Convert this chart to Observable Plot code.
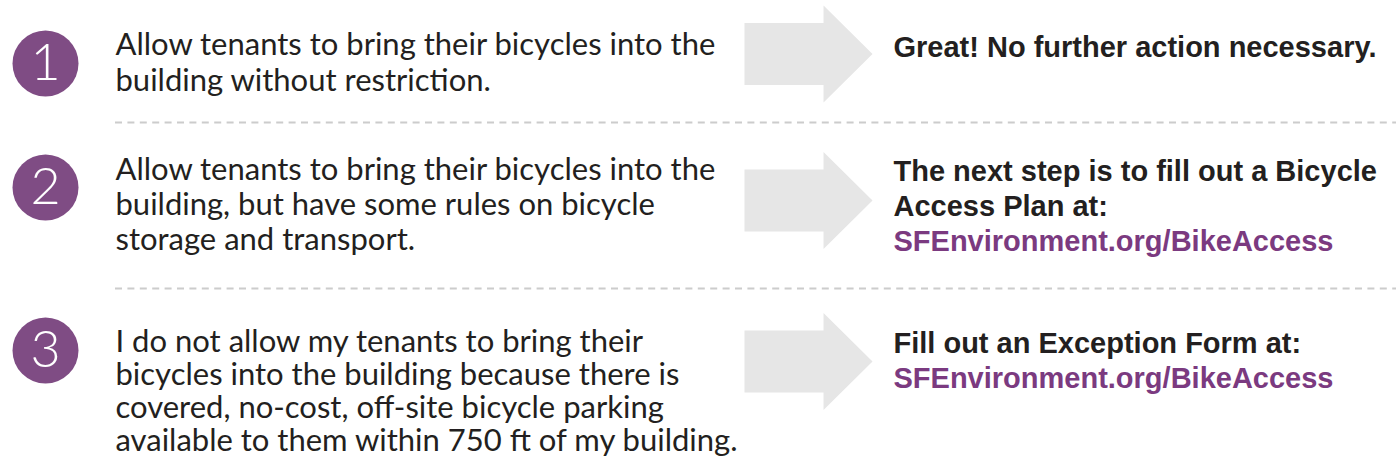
<!DOCTYPE html>
<html><head><meta charset="utf-8">
<script src="https://cdn.jsdelivr.net/npm/d3@7"></script>
<script src="https://cdn.jsdelivr.net/npm/@observablehq/plot@0.6"></script>
<style>
body{margin:0;background:#fff;overflow:hidden}
</style>
</head><body><div id="chart"></div>
<script>
// ---- content ----
const steps = ["1", "2", "3"];
const conditions = [
  ["Allow tenants to bring their bicycles into the", "building without restriction."],
  ["Allow tenants to bring their bicycles into the", "building, but have some rules on bicycle", "storage and transport."],
  ["I do not allow my tenants to bring their", "bicycles into the building because there is", "covered, no-cost, off-site bicycle parking", "available to them within 750 ft of my building."]
];
const actions = [
  ["Great! No further action necessary."],
  ["The next step is to fill out a Bicycle", "Access Plan at:"],
  ["Fill out an Exception Form at:"]
];
const links = [null, "SFEnvironment.org/BikeAccess", "SFEnvironment.org/BikeAccess"];

// ---- layout (pixels) ----
const W = 1396, H = 466;
const circleX = 45, circleR = 33, circleY = [63, 187, 350];
const textX = 115, actionX = 893, arrowX = 808;
const arrowY = [53.5, 200, 361];
const leftBase = [54, 179, 351];
const rightBase = [56, 180, 352];
const lineStep = [36, 35, 33];
const sepY = [122, 288];
const purple = "#7f4c84", linkPurple = "#7b3a80", ink = "#231f20";

const leftLines = conditions.flatMap((ls, r) => ls.map((t, i) => ({t, y: leftBase[r] + i * lineStep[r]})));
const rightLines = actions.flatMap((ls, r) => {
  const out = ls.map((t, i) => ({t, y: rightBase[r] + i * 35, link: false}));
  if (links[r]) out.push({t: links[r], y: rightBase[r] + ls.length * 35, link: true});
  return out;
});
const rows = steps.map((s, i) => ({s, cy: circleY[i], ay: arrowY[i]}));

// arrow symbol: r = half of head height
const arrow = {
  draw(context, size) {
    const r = Math.sqrt(size / Math.PI);
    const L = -1.32 * r, B = 0.31 * r, T = 1.32 * r, bh = 0.64 * r;
    context.moveTo(L, -bh);
    context.lineTo(B, -bh);
    context.lineTo(B, -r);
    context.lineTo(T, 0);
    context.lineTo(B, r);
    context.lineTo(B, bh);
    context.lineTo(L, bh);
    context.closePath();
  }
};

const chart = Plot.plot({
  width: W, height: H, margin: 0,
  x: {domain: [0, W], range: [0, W], axis: null},
  y: {domain: [0, H], range: [0, H], axis: null},
  style: {background: "#fff"},
  marks: [
    Plot.ruleY(sepY, {x1: textX, x2: W, stroke: "#cccccc", strokeWidth: 2, strokeDasharray: "7,5.4"}),
    Plot.dot(rows, {x: () => arrowX, y: "ay", r: 48.5, symbol: arrow, fill: "#e6e6e6", stroke: null}),
    Plot.dot(rows, {x: () => circleX, y: "cy", r: circleR, fill: purple, stroke: null}),
    Plot.text(rows, {x: () => circleX, y: "cy", text: "s", fill: "#fff", fontSize: 52, fontWeight: 300, fontFamily: "Lato, sans-serif", lineAnchor: "middle"}),
    Plot.text(leftLines, {x: () => textX, y: "y", text: "t", textAnchor: "start", lineAnchor: "bottom", fill: ink, fontSize: 31, fontFamily: "Lato, sans-serif"}),
    Plot.text(rightLines, {x: () => actionX, y: "y", text: "t", textAnchor: "start", lineAnchor: "bottom", fill: d => d.link ? linkPurple : ink, fontSize: 29, fontWeight: "bold", fontFamily: "'Liberation Sans', Arial, sans-serif"})
  ]
});
document.getElementById("chart").append(chart);
</script>
</body></html>
